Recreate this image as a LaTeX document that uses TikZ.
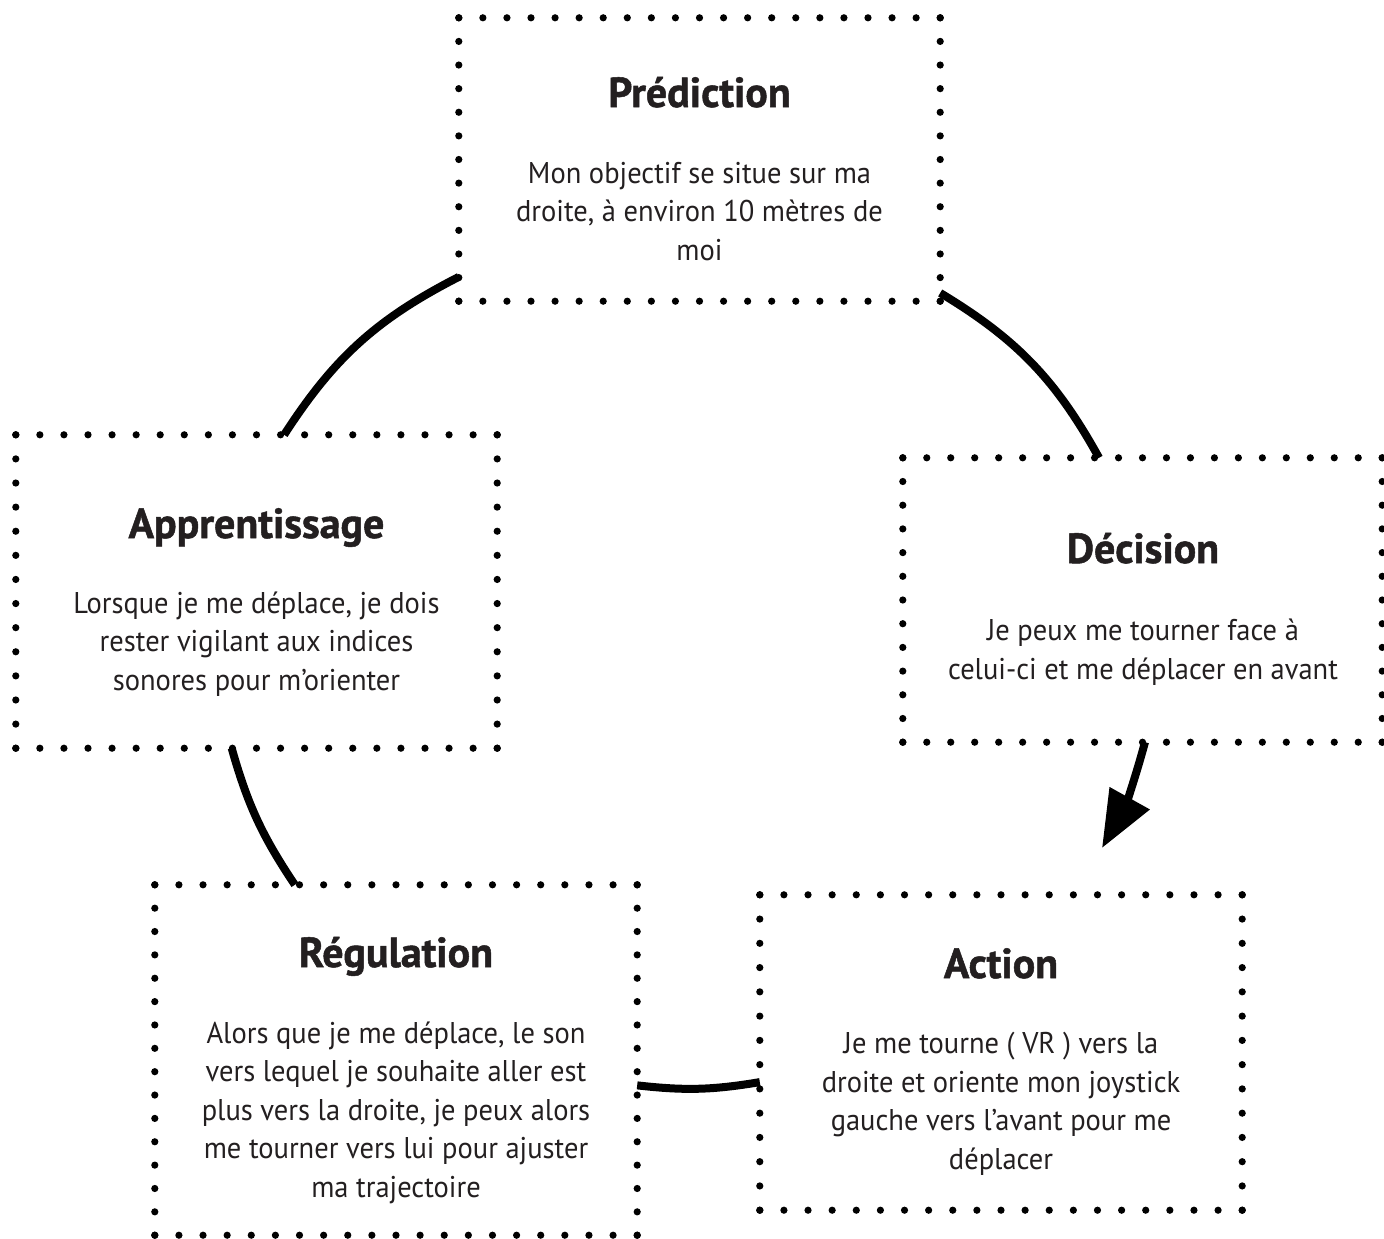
\documentclass[tikz,border=0pt]{standalone}
\usepackage{fontspec}
\setmainfont[FakeStretch=0.95]{PT Sans}
\newfontfamily\headfont[FakeBold=1.2]{PT Sans Bold}
\usetikzlibrary{calc,arrows.meta}
\definecolor{ink}{HTML}{231F20}

% dotted frame around a named node: #2 gaps across, #3 gaps down
\newcommand\dotframe[3]{%
  \foreach \k in {0,...,#2}{%
    \fill[dotcol] ($(#1.north west)!\k/#2!(#1.north east)$) circle[radius=3.6pt];
    \fill[dotcol] ($(#1.south west)!\k/#2!(#1.south east)$) circle[radius=3.6pt];
  }%
  \foreach \k in {0,...,#3}{%
    \fill[dotcol] ($(#1.north west)!\k/#3!(#1.south west)$) circle[radius=3.6pt];
    \fill[dotcol] ($(#1.north east)!\k/#3!(#1.south east)$) circle[radius=3.6pt];
  }%
}

\tikzset{
  dotcol/.style={fill=black},
  card/.style={rectangle, inner sep=0pt, draw=none},
  heading/.style={anchor=base, inner sep=0pt, text=ink,
    font={\headfont\fontsize{42}{48}\selectfont}},
  % anchored on the baseline of the last line
  blurb/.style={anchor=base, inner sep=0pt, text=ink, align=center,
    font={\fontsize{30}{38.5}\selectfont}},
  link/.style={line width=8pt, black},
}

\begin{document}
\begin{tikzpicture}[x=1pt, y=-1pt]
  \useasboundingbox (0,0) rectangle (1384,1239);

  % the five stages
  \node[card, minimum width=481pt, minimum height=283pt] (pred) at (699.5,159.5) {};
  \node[card, minimum width=481pt, minimum height=313pt] (app)  at (256.5,591.5) {};
  \node[card, minimum width=479pt, minimum height=284pt] (dec)  at (1142.5,600) {};
  \node[card, minimum width=482pt, minimum height=315pt] (act)  at (1001,1052.5) {};
  \node[card, minimum width=482pt, minimum height=350pt] (reg)  at (396,1060) {};

  \dotframe{pred}{20}{12}
  \dotframe{app}{20}{13}
  \dotframe{dec}{20}{12}
  \dotframe{act}{20}{13}
  \dotframe{reg}{20}{15}

  % headings and descriptions
  \node[heading] (predT) at (699.5,107) {Prédiction};
  \node[blurb]   (predB) at (699.5,260) {Mon objectif se situe sur ma\\droite, à environ 10 mètres de\\moi};

  \node[heading] (appT) at (256.5,538) {Apprentissage};
  \node[blurb]   (appB) at (256.5,690) {Lorsque je me déplace, je dois\\rester vigilant aux indices\\sonores pour m’orienter};

  \node[heading] (decT) at (1143,563) {Décision};
  \node[blurb]   (decB) at (1143,679) {Je peux me tourner face à\\celui-ci et me déplacer en avant};

  \node[heading] (actT) at (1001,978) {Action};
  \node[blurb]   (actB) at (1001,1169) {Je me tourne ( VR ) vers la\\droite et oriente mon joystick\\gauche vers l’avant pour me\\déplacer};

  \node[heading] (regT) at (396,967) {Régulation};
  \node[blurb]   (regB) at (396,1197) {Alors que je me déplace, le son\\vers lequel je souhaite aller est\\plus vers la droite, je peux alors\\me tourner vers lui pour ajuster\\ma trajectoire};

  % cycle connectors
  \coordinate (tip) at (1102,848);
  \draw[link] (pred.206) to[bend right=15] (app.80);
  \draw[link] (pred.331) to[bend left=15] (dec.107.5);
  \draw[link, -{Triangle[length=57pt, width=44pt]}] (dec.271) to[bend left=7] (tip);
  \draw[link] (app.261.5) to[bend right=9] (reg.120);
  \draw[link] (reg.354) to[bend right=8] (act.187);
\end{tikzpicture}
\end{document}
